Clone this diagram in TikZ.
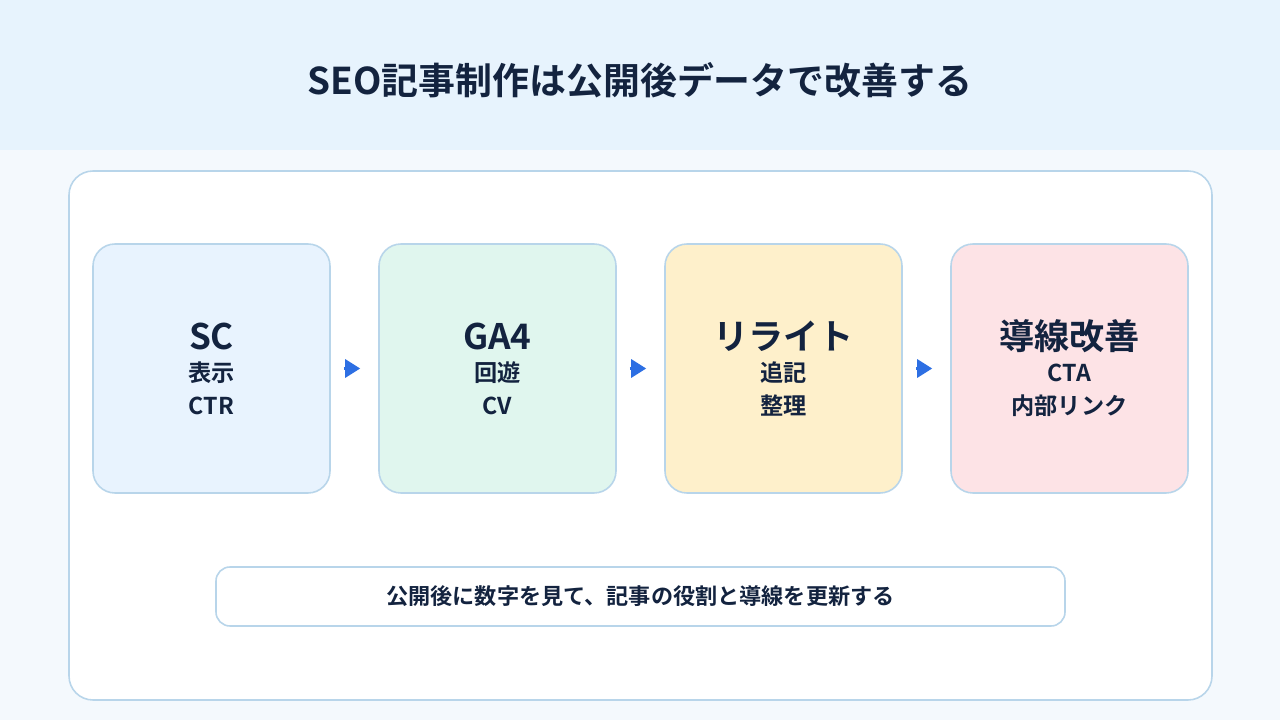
\documentclass[tikz,border=0pt]{standalone}
\usepackage{fontspec}
\setmainfont{Noto Sans CJK JP}[BoldFont={Noto Sans CJK JP Bold}]
\usepackage{xcolor}
\usetikzlibrary{arrows.meta}
\definecolor{SEOHead}{HTML}{E7F3FD}
\definecolor{SEOPage}{HTML}{F4F9FD}
\definecolor{SEOLine}{HTML}{B8D5EA}
\definecolor{SEOInk}{HTML}{13233F}
\definecolor{SEOArrow}{HTML}{2D6FE3}
\definecolor{SEOBlue}{HTML}{E8F3FE}
\definecolor{SEOGreen}{HTML}{E0F6EE}
\definecolor{SEOYellow}{HTML}{FEF0CB}
\definecolor{SEOPink}{HTML}{FDE3E6}
\tikzset{
  stepbox/.style={draw=SEOLine,line width=0.9pt,rounded corners=0.44cm,minimum width=4.74cm,minimum height=4.98cm,inner sep=0pt},
  steptitle/.style={text=SEOInk,font=\fontsize{20}{24}\selectfont\bfseries,inner sep=0pt},
  stepsub/.style={text=SEOInk,font=\fontsize{13.2}{16}\selectfont\bfseries,inner sep=0pt},
  flowarrow/.style={draw=SEOArrow,line width=1.7pt,-{Triangle[length=0.3cm,width=0.36cm]},shorten <=0.26cm,shorten >=0.36cm}
}

\begin{document}
\begin{tikzpicture}[x=1cm,y=1cm]
\path[use as bounding box] (0,0) rectangle (25.60,14.40);
\fill[SEOPage] (0,0) rectangle (25.60,11.40);
\fill[SEOHead] (0,11.40) rectangle (25.60,14.40);
\node[text=SEOInk,font=\fontsize{21}{25}\selectfont\bfseries] (title) at (12.80,12.80) {SEO記事制作は公開後データで改善する};
\node[draw=SEOLine,line width=0.9pt,fill=white,rounded corners=0.48cm,minimum width=22.86cm,minimum height=10.58cm] (panel) at (12.81,5.69) {};
\node[stepbox,fill=SEOBlue] (sc) at (4.23,7.03) {};
\node[steptitle] (sc-t) at (4.23,7.68) {SC};
\node[stepsub] (sc-a) at (4.23,6.94) {表示};
\node[stepsub] (sc-b) at (4.23,6.28) {CTR};
\node[stepbox,fill=SEOGreen] (ga) at (9.95,7.03) {};
\node[steptitle] (ga-t) at (9.95,7.68) {GA4};
\node[stepsub] (ga-a) at (9.95,6.94) {回遊};
\node[stepsub] (ga-b) at (9.95,6.28) {CV};
\node[stepbox,fill=SEOYellow] (rw) at (15.67,7.03) {};
\node[steptitle] (rw-t) at (15.67,7.68) {リライト};
\node[stepsub] (rw-a) at (15.67,6.94) {追記};
\node[stepsub] (rw-b) at (15.67,6.28) {整理};
\node[stepbox,fill=SEOPink] (cta) at (21.39,7.03) {};
\node[steptitle] (cta-t) at (21.39,7.68) {導線改善};
\node[stepsub] (cta-a) at (21.39,6.94) {CTA};
\node[stepsub] (cta-b) at (21.39,6.28) {内部リンク};
\draw[flowarrow] (sc) -- (ga);
\draw[flowarrow] (ga) -- (rw);
\draw[flowarrow] (rw) -- (cta);
\node[draw=SEOLine,line width=0.9pt,fill=white,rounded corners=0.28cm,minimum width=16.98cm,minimum height=1.18cm,text=SEOInk,font=\fontsize{12.6}{15}\selectfont\bfseries] (note) at (12.81,2.47) {公開後に数字を見て、記事の役割と導線を更新する};
\end{tikzpicture}
\end{document}
